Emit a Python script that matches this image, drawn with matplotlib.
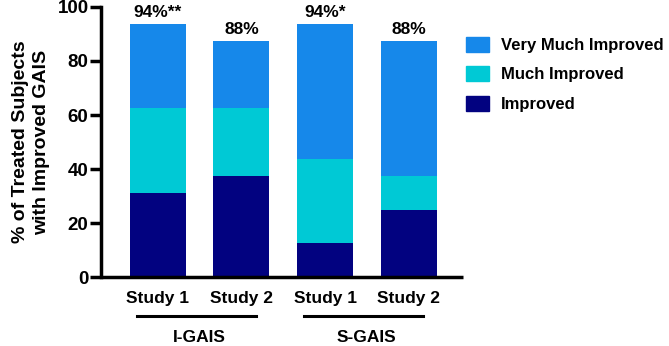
import matplotlib
matplotlib.use('Agg')
import matplotlib.pyplot as plt
from matplotlib.patches import Patch

plt.rcParams['font.family'] = ['Liberation Sans', 'DejaVu Sans']
plt.rcParams['font.weight'] = 'bold'

studies = ['Study 1', 'Study 2', 'Study 1', 'Study 2']
groups = ['I-GAIS', 'S-GAIS']
improved = [31.25, 37.5, 12.5, 25.0]
much_improved = [31.25, 25.0, 31.25, 12.5]
very_much_improved = [31.25, 25.0, 50.0, 50.0]
totals = ['94%**', '88%', '94%*', '88%']

c_very = '#1688EA'
c_much = '#00C9D5'
c_imp = '#020280'

fig = plt.figure(figsize=(6.69, 3.46), dpi=100)
ax = fig.add_axes([0.151, 0.199, 0.541, 0.781])

x = list(range(len(studies)))
w = 0.67
b1 = improved
b2 = [a + b for a, b in zip(improved, much_improved)]
ax.bar(x, improved, w, color=c_imp)
ax.bar(x, much_improved, w, bottom=b1, color=c_much)
ax.bar(x, very_much_improved, w, bottom=b2, color=c_very)

for xi, top, lab in zip(x, [a + b for a, b in zip(b2, very_much_improved)], totals):
    ax.text(xi, top + 1.5, lab, ha='center', va='bottom', fontsize=12.5, fontweight='bold')

ax.set_xlim(-0.68, 3.65)
ax.set_ylim(0, 100)
ax.set_yticks([0, 20, 40, 60, 80, 100])
ax.set_xticks(x)
ax.set_xticklabels(studies, fontsize=12.5, fontweight='bold')
ax.tick_params(axis='x', length=0, pad=10)
ax.tick_params(axis='y', length=8, width=2.5, labelsize=13.5, pad=1)
for s in ['top', 'right']:
    ax.spines[s].set_visible(False)
for s in ['left', 'bottom']:
    ax.spines[s].set_linewidth(2.5)
ax.spines['bottom'].set_capstyle('butt')

ax.set_ylabel('% of Treated Subjects\nwith Improved GAIS', fontsize=14, fontweight='bold',
              labelpad=5, linespacing=1.35)

# group underlines and labels
for gi, g in enumerate(groups):
    x0, x1 = 2 * gi - 0.25, 2 * gi + 1.17
    ax.plot([x0, x1], [-14.5, -14.5], color='black', lw=2.2, clip_on=False)
    ax.text(2 * gi + 0.5, -22.5, g, ha='center', va='center', fontsize=12.5,
            fontweight='bold', clip_on=False)

handles = [Patch(color=c_very), Patch(color=c_much), Patch(color=c_imp)]
labels = ['Very Much Improved', 'Much Improved', 'Improved']
fig.legend(handles, labels, loc='upper left', bbox_to_anchor=(0.674, 0.937),
           frameon=False, handlelength=1.4, handleheight=1.0,
           handletextpad=0.7, labelspacing=0.8, prop={'weight': 'bold', 'size': 12})

fig.savefig('out.png', dpi=100)
